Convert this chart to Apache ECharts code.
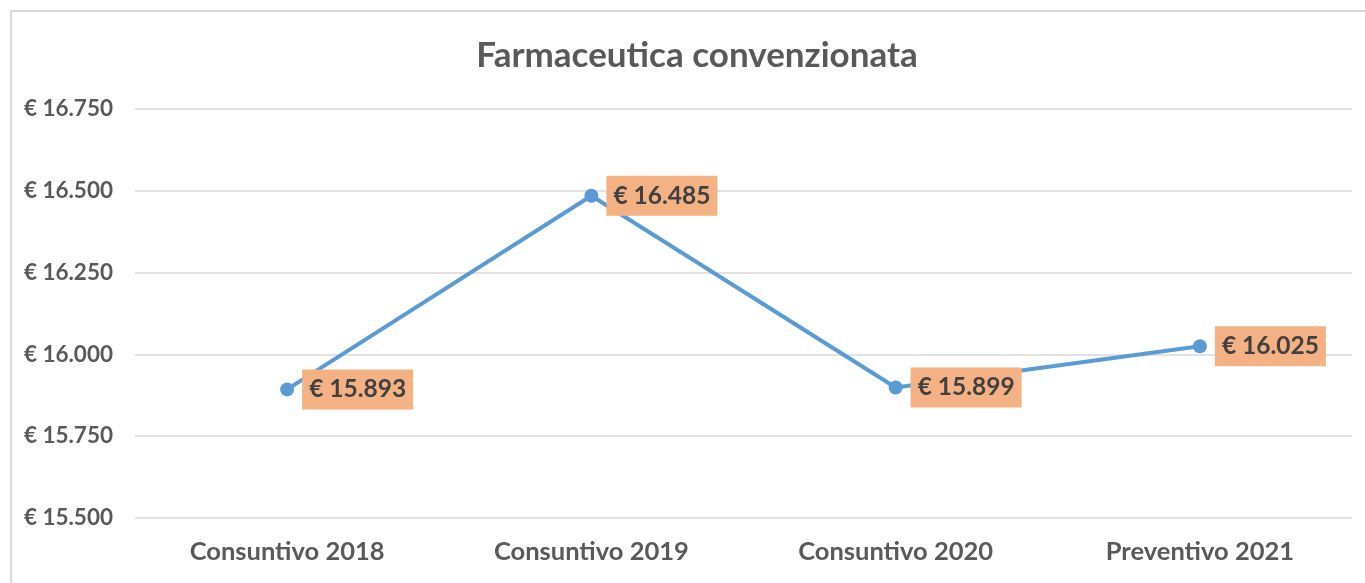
<!DOCTYPE html>
<html><head><meta charset="utf-8">
<script src="https://cdn.jsdelivr.net/npm/echarts@6/dist/echarts.min.js"></script>
<style>
html,body{margin:0;padding:0;background:#fff;}
#frame{position:absolute;left:10px;top:10px;width:1400px;height:600px;border-left:2px solid #d9d9d9;border-top:2px solid #d9d9d9;}
#c{position:absolute;left:0;top:0;width:1365px;height:583px;}
</style></head>
<body>
<div id="frame"></div>
<div id="c"></div>
<script>
const categories = ['Consuntivo 2018','Consuntivo 2019','Consuntivo 2020','Preventivo 2021'];
const values = [15893, 16485, 15899, 16025];
const yMin = 15500, yMax = 16750, yStep = 250;
const titleText = 'Farmaceutica convenzionata';

function fmt(v){ return '€ ' + String(v).replace(/\B(?=(\d{3})+(?!\d))/g, '.'); }

const chart = echarts.init(document.getElementById('c'), null, {renderer:'canvas'});
const font = 'Lato';
chart.setOption({
  animation:false,
  title:{text:titleText, left:692, top:33, textAlign:'center',
    textStyle:{fontFamily:font, fontWeight:'bold', fontSize:35, color:'#595959'}},
  grid:{left:135, right:13, top:109, bottom:65, containLabel:false},
  xAxis:{type:'category', data:categories, boundaryGap:true,
    axisLine:{show:false}, axisTick:{show:false},
    axisLabel:{fontFamily:font, fontWeight:'bold', fontSize:25.5, color:'#595959', margin:21}},
  yAxis:{type:'value', min:yMin, max:yMax, interval:yStep,
    axisLine:{show:false}, axisTick:{show:false},
    splitLine:{lineStyle:{color:'#d9d9d9', width:1.5}},
    axisLabel:{fontFamily:font, fontWeight:'bold', fontSize:22.5, color:'#595959', margin:22, formatter:fmt}},
  series:[{type:'line', data:values, symbol:'circle', symbolSize:14,
    lineStyle:{color:'#5b9bd5', width:4}, itemStyle:{color:'#5b9bd5'},
    label:{show:true, position:'right', distance:8, formatter:p=>fmt(p.value),
      fontFamily:font, fontWeight:'bold', fontSize:24.5, color:'#404040',
      backgroundColor:'#f4b183', padding:[8,7,7,7]}}]
});
</script>
</body></html>
